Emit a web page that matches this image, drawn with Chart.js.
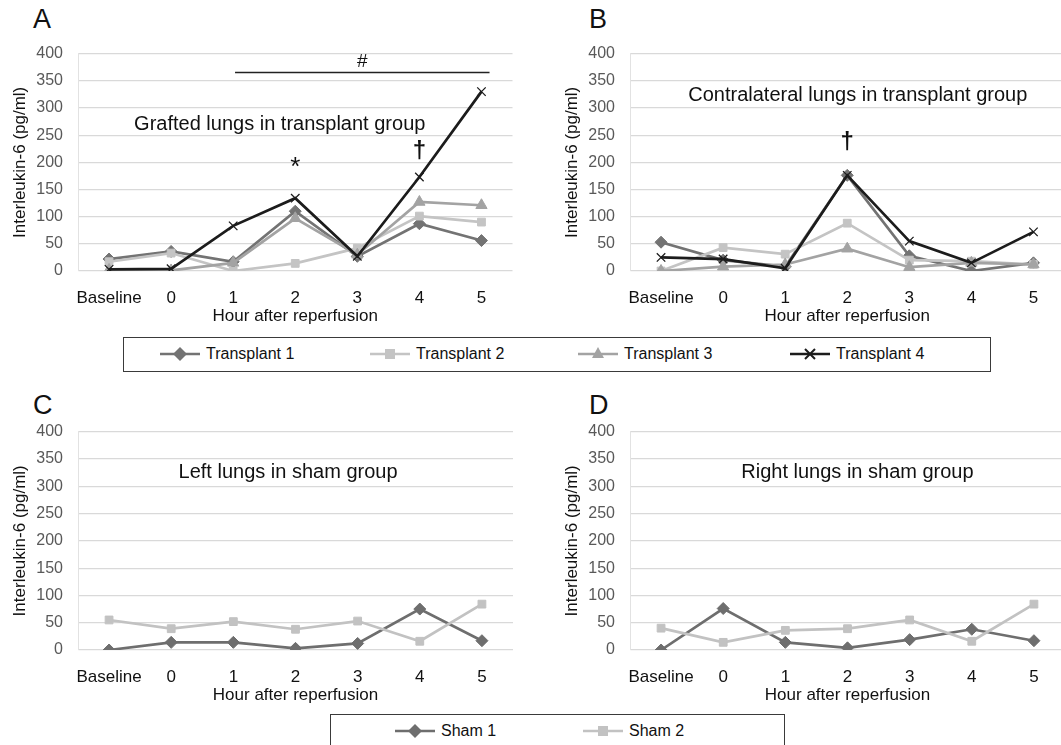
<!DOCTYPE html>
<html>
<head>
<meta charset="utf-8">
<script src="https://cdn.jsdelivr.net/npm/chart.js@4.4.1/dist/chart.umd.min.js"></script>
<style>
  html, body { margin: 0; padding: 0; background: #fff; }
  body { width: 1061px; height: 745px; position: relative; overflow: hidden; font-family: "Liberation Sans", Arial, sans-serif; }
  .panel { position: absolute; }
  .letter { position: absolute; font-size: 27px; color: #111; line-height: 1; }
  .legend { position: absolute; border: 1.5px solid #3a3a3a; box-sizing: border-box; background: #fff; }
  .item { position: absolute; display: flex; align-items: center; font-size: 16px; color: #111; }
  .item svg { margin-right: 6px; }
</style>
</head>
<body>
<div class="letter" style="left:33px;top:6px;">A</div>
<div class="letter" style="left:589px;top:6px;">B</div>
<div class="letter" style="left:33px;top:392px;">C</div>
<div class="letter" style="left:589px;top:392px;">D</div>

<div class="panel" style="left:0;top:29px;"><canvas id="chartA" width="520" height="304"></canvas></div>
<div class="panel" style="left:552px;top:29px;"><canvas id="chartB" width="520" height="304"></canvas></div>
<div class="panel" style="left:0;top:407px;"><canvas id="chartC" width="520" height="305"></canvas></div>
<div class="panel" style="left:552px;top:407px;"><canvas id="chartD" width="520" height="305"></canvas></div>

<div class="legend" id="legendTop" style="left:123px;top:337px;width:868px;height:35px;"></div>
<div class="legend" id="legendBottom" style="left:330px;top:714px;width:455px;height:40px;"></div>

<script>
// ---- data ----
const hours = ['Baseline', '0', '1', '2', '3', '4', '5'];
const yTicks = [0, 50, 100, 150, 200, 250, 300, 350, 400];

// Grafted lungs (panel A)
const graftT1 = [22, 36, 17, 110, 27, 87, 56];
const graftT2 = [17, 33, 0, 14, 42, 101, 90];
const graftT3 = [2, 1, 15, 97, 30, 127, 121];
const graftT4 = [3, 4, 83, 134, 27, 173, 330];

// Contralateral lungs (panel B)
const contraT1 = [53, 20, 8, 176, 28, 0, 15];
const contraT2 = [0, 43, 31, 88, 20, 18, 12];
const contraT3 = [0, 8, 12, 41, 7, 15, 12];
const contraT4 = [25, 22, 5, 176, 55, 15, 72];

// Sham group (panels C and D)
const leftS1 = [0, 14, 14, 3, 12, 75, 17];
const leftS2 = [55, 39, 52, 38, 53, 16, 84];
const rightS1 = [0, 76, 14, 4, 19, 38, 17];
const rightS2 = [40, 14, 36, 39, 55, 16, 84];

const transplantNames = ['Transplant 1', 'Transplant 2', 'Transplant 3', 'Transplant 4'];
const shamNames = ['Sham 1', 'Sham 2'];

// ---- styles ----
const seriesStyle = {
  t1: { color: '#737373', point: 'rectRot', radius: 6 },
  t2: { color: '#c4c4c4', point: 'rect', radius: 5.5 },
  t3: { color: '#a3a3a3', point: 'triangle', radius: 6.5 },
  t4: { color: '#1c1c1c', point: 'crossRot', radius: 6 },
  s1: { color: '#6e6e6e', point: 'rectRot', radius: 6 },
  s2: { color: '#c2c2c2', point: 'rect', radius: 5.5 }
};

const FONT = '"Liberation Sans", Arial, sans-serif';

function makeDataset(label, data, style, order) {
  return {
    label: label,
    data: data,
    borderColor: style.color,
    backgroundColor: style.color,
    pointStyle: style.point,
    pointRadius: style.radius,
    pointBorderColor: style.color,
    pointBackgroundColor: style.color,
    pointBorderWidth: style.point === 'crossRot' ? 1.3 : 1,
    borderWidth: 2.7,
    tension: 0,
    order: order
  };
}

// draws panel titles and significance marks at data coordinates
const notesPlugin = {
  id: 'notes',
  afterDatasetsDraw(chart, args, opts) {
    const ctx = chart.ctx;
    const xs = chart.scales.x, ys = chart.scales.y;
    (opts.items || []).forEach(n => {
      ctx.save();
      ctx.fillStyle = '#111';
      ctx.font = n.font;
      ctx.textAlign = 'center';
      ctx.textBaseline = 'middle';
      ctx.fillText(n.text, xs.getPixelForValue(n.x), ys.getPixelForValue(n.y));
      ctx.restore();
    });
    (opts.lines || []).forEach(l => {
      ctx.save();
      ctx.strokeStyle = '#222';
      ctx.lineWidth = 1.5;
      ctx.beginPath();
      ctx.moveTo(xs.getPixelForValue(l.x1), ys.getPixelForValue(l.y));
      ctx.lineTo(xs.getPixelForValue(l.x2), ys.getPixelForValue(l.y));
      ctx.stroke();
      ctx.restore();
    });
  }
};

function makePanel(id, datasets, notes) {
  const ctx = document.getElementById(id).getContext('2d');
  return new Chart(ctx, {
    type: 'line',
    data: { labels: hours, datasets: datasets },
    plugins: [notesPlugin],
    options: {
      responsive: false,
      animation: false,
      layout: { padding: { top: 0, right: 6, left: 0, bottom: 0 } },
      scales: {
        x: {
          offset: true,
          grid: { display: false, drawTicks: false },
          border: { display: false },
          ticks: { color: '#111', font: { family: FONT, size: 17 }, padding: 17, maxRotation: 0, autoSkip: false },
          title: { display: true, text: 'Hour after reperfusion', color: '#111', font: { family: FONT, size: 17 }, padding: { top: 0, bottom: 6 } },
          afterFit: s => { s.height = 62; }
        },
        y: {
          min: 0,
          max: 400,
          afterBuildTicks: s => { s.ticks = yTicks.map(v => ({ value: v })); },
          grid: { color: '#d9d9d9', lineWidth: 1.2, drawTicks: false },
          border: { display: true, color: '#e2e2e2' },
          ticks: { color: '#595959', font: { family: FONT, size: 16 }, padding: 15 },
          title: { display: true, text: 'Interleukin-6 (pg/ml)', color: '#111', font: { family: FONT, size: 17 }, padding: { top: 10, bottom: 0 } },
          afterFit: s => { s.width = 78; }
        }
      },
      plugins: {
        legend: { display: false },
        tooltip: { enabled: false },
        notes: notes
      }
    }
  });
}

makePanel('chartA', [
  makeDataset(transplantNames[0], graftT1, seriesStyle.t1, 4),
  makeDataset(transplantNames[1], graftT2, seriesStyle.t2, 3),
  makeDataset(transplantNames[2], graftT3, seriesStyle.t3, 2),
  makeDataset(transplantNames[3], graftT4, seriesStyle.t4, 1)
], {
  items: [
    { text: 'Grafted lungs in transplant group', x: 2.75, y: 270, font: '20px ' + FONT },
    { text: '*', x: 3, y: 190, font: '26px ' + FONT },
    { text: '\u2020', x: 5, y: 220, font: 'bold 24px ' + FONT },
    { text: '#', x: 4.08, y: 385, font: '19px ' + FONT }
  ],
  lines: [{ x1: 2.03, x2: 6.13, y: 365 }]
});

makePanel('chartB', [
  makeDataset(transplantNames[0], contraT1, seriesStyle.t1, 4),
  makeDataset(transplantNames[1], contraT2, seriesStyle.t2, 3),
  makeDataset(transplantNames[2], contraT3, seriesStyle.t3, 2),
  makeDataset(transplantNames[3], contraT4, seriesStyle.t4, 1)
], {
  items: [
    { text: 'Contralateral lungs in transplant group', x: 3.17, y: 323, font: '20px ' + FONT },
    { text: '\u2020', x: 3, y: 237, font: 'bold 24px ' + FONT }
  ]
});

makePanel('chartC', [
  makeDataset(shamNames[0], leftS1, seriesStyle.s1, 2),
  makeDataset(shamNames[1], leftS2, seriesStyle.s2, 1)
], {
  items: [{ text: 'Left lungs in sham group', x: 2.88, y: 325, font: '20px ' + FONT }]
});

makePanel('chartD', [
  makeDataset(shamNames[0], rightS1, seriesStyle.s1, 2),
  makeDataset(shamNames[1], rightS2, seriesStyle.s2, 1)
], {
  items: [{ text: 'Right lungs in sham group', x: 3.16, y: 325, font: '20px ' + FONT }]
});

// ---- HTML legends ----
function markerSvg(style) {
  const c = style.color;
  let m = '';
  if (style.point === 'rectRot') m = `<polygon points="20,3 27,10 20,17 13,10" fill="${c}"/>`;
  else if (style.point === 'rect') m = `<rect x="15" y="5" width="10" height="10" fill="${c}"/>`;
  else if (style.point === 'triangle') m = `<polygon points="20,3 26,14 14,14" fill="${c}"/>`;
  else m = `<path d="M15 5 L25 15 M25 5 L15 15" stroke="${c}" stroke-width="2"/>`;
  return `<svg width="40" height="20"><line x1="0" y1="10" x2="40" y2="10" stroke="${c}" stroke-width="2.5"/>${m}</svg>`;
}

function buildLegend(el, names, styles, lefts) {
  names.forEach((n, i) => {
    const d = document.createElement('div');
    d.className = 'item';
    d.style.left = lefts[i] + 'px';
    d.style.top = '6px';
    d.innerHTML = markerSvg(styles[i]) + '<span>' + n + '</span>';
    el.appendChild(d);
  });
}

buildLegend(document.getElementById('legendTop'), transplantNames,
  [seriesStyle.t1, seriesStyle.t2, seriesStyle.t3, seriesStyle.t4], [36, 246, 454, 666]);
buildLegend(document.getElementById('legendBottom'), shamNames,
  [seriesStyle.s1, seriesStyle.s2], [64, 252]);
</script>
</body>
</html>
